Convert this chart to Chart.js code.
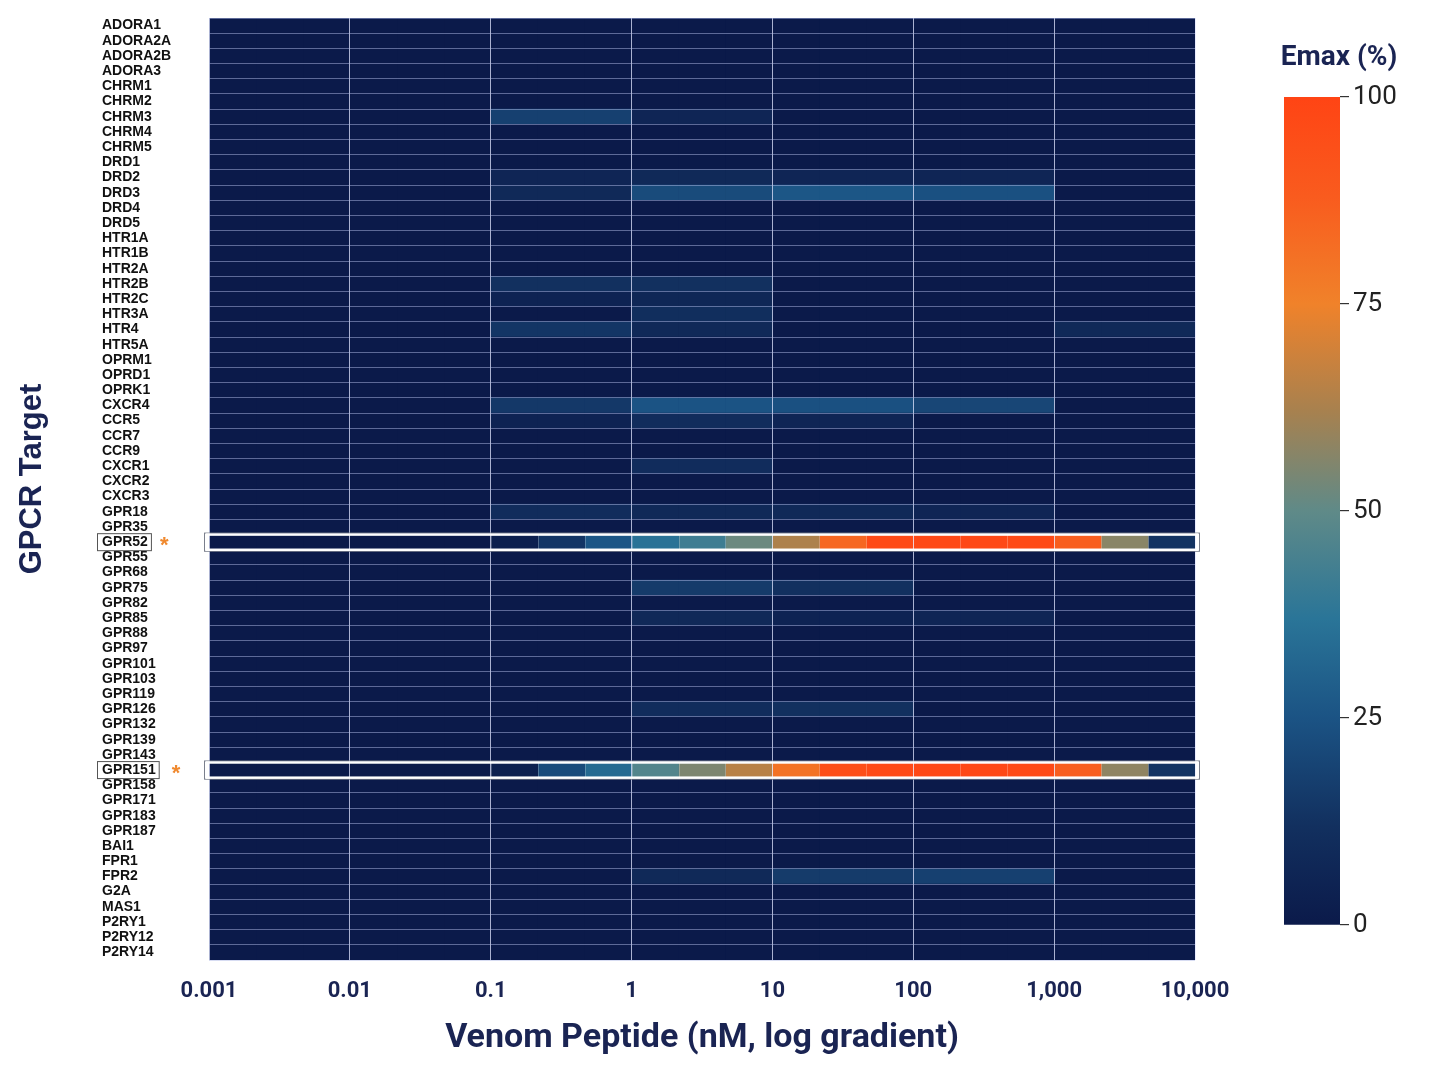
<!DOCTYPE html>
<html>
<head>
<meta charset="utf-8">
<title>GPCR Emax heatmap</title>
<script src="https://cdn.jsdelivr.net/npm/chart.js@4.4.1/dist/chart.umd.min.js"></script>
<style>
  html, body { margin: 0; padding: 0; background: #fff; }
  #wrap { position: relative; width: 1440px; height: 1080px; }
  #chart { position: absolute; left: 0; top: 0; }
  #cbar { position: absolute; left: 1240px; top: 0; }
</style>
</head>
<body>
<div id="wrap">
  <canvas id="chart" width="1440" height="1080"></canvas>
  <canvas id="cbar" width="200" height="1080"></canvas>
</div>
<script>
const targets = [
  'ADORA1', 'ADORA2A', 'ADORA2B', 'ADORA3', 'CHRM1', 'CHRM2', 'CHRM3', 'CHRM4', 'CHRM5',
  'DRD1', 'DRD2', 'DRD3', 'DRD4', 'DRD5', 'HTR1A', 'HTR1B', 'HTR2A', 'HTR2B', 'HTR2C',
  'HTR3A', 'HTR4', 'HTR5A', 'OPRM1', 'OPRD1', 'OPRK1', 'CXCR4', 'CCR5', 'CCR7', 'CCR9',
  'CXCR1', 'CXCR2', 'CXCR3', 'GPR18', 'GPR35', 'GPR52', 'GPR55', 'GPR68', 'GPR75', 'GPR82',
  'GPR85', 'GPR88', 'GPR97', 'GPR101', 'GPR103', 'GPR119', 'GPR126', 'GPR132', 'GPR139',
  'GPR143', 'GPR151', 'GPR158', 'GPR171', 'GPR183', 'GPR187', 'BAI1', 'FPR1', 'FPR2',
  'G2A', 'MAS1', 'P2RY1', 'P2RY12', 'P2RY14'
];

// concentration axis (nM), decade ticks
const concTicks = [0.001, 0.01, 0.1, 1, 10, 100, 1000, 10000];
const concTickLabels = ['0.001', '0.01', '0.1', '1', '10', '100', '1,000', '10,000'];
const binsPerDecade = 3;

// Emax (%) per third-of-a-decade bin, 0.001 -> 10,000 nM
const gpr52Emax  = [0, 0, 0, 0, 0, 0, 3, 14, 26, 36, 42, 52, 63, 84, 97, 98, 98, 97, 87, 57, 13];
const gpr151Emax = [0, 0, 0, 0, 0, 0, 3, 22, 33, 47, 55, 65, 80, 95, 97, 98, 98, 97, 87, 58, 13];

// weak responses of the other receptors: [target, decade start (nM), Emax %]
const weakSignals = [
  ['CHRM3', 0.1, 18], ['CHRM3', 1, 6],
  ['DRD2', 0.1, 6], ['DRD2', 1, 8], ['DRD2', 10, 6], ['DRD2', 100, 6],
  ['DRD3', 0.1, 8], ['DRD3', 1, 22], ['DRD3', 10, 26], ['DRD3', 100, 24],
  ['HTR2B', 0.1, 12], ['HTR2B', 1, 12],
  ['HTR2C', 0.1, 5], ['HTR2C', 1, 7],
  ['HTR3A', 1, 11],
  ['HTR4', 0.1, 14], ['HTR4', 1, 8], ['HTR4', 1000, 8],
  ['CXCR4', 0.1, 15], ['CXCR4', 1, 25], ['CXCR4', 10, 24], ['CXCR4', 100, 20],
  ['CCR5', 0.1, 5], ['CCR5', 1, 10], ['CCR5', 10, 6],
  ['CXCR1', 1, 10],
  ['GPR18', 0.1, 10], ['GPR18', 1, 8], ['GPR18', 10, 8], ['GPR18', 100, 6],
  ['GPR75', 1, 16], ['GPR75', 10, 12],
  ['GPR85', 1, 8], ['GPR85', 10, 5], ['GPR85', 100, 6],
  ['GPR126', 1, 10], ['GPR126', 10, 12],
  ['FPR2', 1, 8], ['FPR2', 10, 16], ['FPR2', 100, 18]
];

const emaxTicks = [0, 25, 50, 75, 100];

const NAVY = '#1a2453';
const colorStops = [
  [0, '#0b1a4a'], [12, '#12305f'], [25, '#1b5384'], [37, '#2a7598'], [50, '#5f8a88'],
  [62, '#a7814f'], [75, '#f0822a'], [88, '#f95b1e'], [100, '#ff4414']
];

function hexToRgb(h) {
  return [parseInt(h.slice(1, 3), 16), parseInt(h.slice(3, 5), 16), parseInt(h.slice(5, 7), 16)];
}

function emaxColor(v) {
  for (let i = 1; i < colorStops.length; i++) {
    if (v <= colorStops[i][0]) {
      const [v0, c0] = colorStops[i - 1];
      const [v1, c1] = colorStops[i];
      const t = (v - v0) / (v1 - v0);
      const a = hexToRgb(c0), b = hexToRgb(c1);
      const rgb = a.map((x, k) => Math.round(x + (b[k] - x) * t));
      return `rgb(${rgb[0]}, ${rgb[1]}, ${rgb[2]})`;
    }
  }
  return colorStops[colorStops.length - 1][1];
}

const hitRows = { GPR52: gpr52Emax, GPR151: gpr151Emax };

// bin edges along the concentration axis
const bins = [];
for (let d = 0; d < concTicks.length - 1; d++) {
  for (let s = 0; s < binsPerDecade; s++) {
    bins.push({
      lo: concTicks[d] * Math.pow(10, s / binsPerDecade),
      hi: concTicks[d] * Math.pow(10, (s + 1) / binsPerDecade),
      decade: concTicks[d]
    });
  }
}

function cellValue(target, binIndex) {
  if (hitRows[target]) return hitRows[target][binIndex];
  const w = weakSignals.find(s => s[0] === target && s[1] === bins[binIndex].decade);
  return w ? w[2] : 0;
}

const datasets = bins.map((b, i) => ({
  label: b.lo + '-' + b.hi + ' nM',
  data: targets.map(t => ({ y: t, x: [b.lo, b.hi] })),
  backgroundColor: targets.map(t => emaxColor(cellValue(t, i))),
  borderWidth: 0,
  grouped: false,
  barPercentage: 1,
  categoryPercentage: 1
}));

// navy behind the cells so no white hairlines show through
const plotBackground = {
  id: 'plotBackground',
  beforeDatasetsDraw(chart) {
    const { ctx, chartArea: a } = chart;
    ctx.save();
    ctx.fillStyle = emaxColor(0);
    ctx.fillRect(a.left, a.top, a.right - a.left, a.bottom - a.top);
    ctx.restore();
  }
};

// outlines of the hit rows, boxed labels, asterisks and y title
const highlights = {
  id: 'highlights',
  afterDraw(chart) {
    const { ctx, chartArea: a, scales: { x, y } } = chart;
    const rowH = (a.bottom - a.top) / targets.length;
    ctx.save();
    Object.keys(hitRows).forEach(name => {
      const idx = targets.indexOf(name);
      const cy = y.getPixelForValue(idx);
      const top = cy - rowH / 2;
      // thin separators between bins
      ctx.strokeStyle = 'rgba(255,255,255,0.25)';
      ctx.lineWidth = 1;
      bins.forEach((b, i) => {
        if (i === 0) return;
        if (hitRows[name][i] > 0 || hitRows[name][i - 1] > 0) {
          const px = Math.round(x.getPixelForValue(b.lo)) + 0.5;
          ctx.beginPath();
          ctx.moveTo(px, top);
          ctx.lineTo(px, top + rowH);
          ctx.stroke();
        }
      });
      // row outline
      ctx.strokeStyle = '#7a7f8c';
      ctx.lineWidth = 1;
      ctx.strokeRect(a.left - 4.5, top - 1.5, a.right - a.left + 9, rowH + 3);
      ctx.strokeStyle = '#ffffff';
      ctx.lineWidth = 2.5;
      ctx.strokeRect(a.left - 2, top, a.right - a.left + 4, rowH);
      // boxed label + asterisk
      ctx.font = 'bold 14px "Liberation Sans", Arial, sans-serif';
      const w = ctx.measureText(name).width;
      ctx.strokeStyle = '#555555';
      ctx.lineWidth = 1;
      ctx.strokeRect(y.left - 4.5, cy - 8.5, w + 8, 17);
      ctx.fillStyle = '#f0892e';
      ctx.font = 'bold 22px "Liberation Sans", Arial, sans-serif';
      ctx.textAlign = 'left';
      ctx.textBaseline = 'middle';
      ctx.fillText('*', y.left + w + (name === 'GPR151' ? 16 : 12), cy + 4);
    });
    // y axis title
    ctx.translate(32, (a.top + a.bottom) / 2 - 10);
    ctx.rotate(-Math.PI / 2);
    ctx.fillStyle = NAVY;
    ctx.font = 'bold 31px "Liberation Sans", Arial, sans-serif';
    ctx.textAlign = 'center';
    ctx.textBaseline = 'middle';
    ctx.fillText('GPCR Target', 0, 0);
    ctx.restore();
  }
};

new Chart(document.getElementById('chart'), {
  type: 'bar',
  data: { labels: targets, datasets: datasets },
  options: {
    indexAxis: 'y',
    responsive: false,
    animation: false,
    layout: { padding: { left: 102, right: 245, top: 18, bottom: 0 } },
    plugins: { legend: { display: false }, tooltip: { enabled: false } },
    scales: {
      x: {
        type: 'logarithmic',
        position: 'bottom',
        min: concTicks[0],
        max: concTicks[concTicks.length - 1],
        afterBuildTicks: s => { s.ticks = concTicks.map(v => ({ value: v })); },
        afterFit: s => { s.height = 120; },
        grid: { color: 'rgba(225,230,255,0.75)', lineWidth: 1, drawTicks: false, z: 1 },
        border: { display: false },
        ticks: {
          padding: 18,
          autoSkip: false,
          maxRotation: 0,
          color: NAVY,
          font: { family: 'Roboto', size: 22, weight: 'bold' },
          callback: (v, i) => concTickLabels[i]
        },
        title: {
          display: true,
          text: 'Venom Peptide (nM, log gradient)',
          color: NAVY,
          font: { family: 'Roboto', size: 34, weight: 'bold' },
          padding: { top: 0, bottom: 21 }
        }
      },
      y: {
        type: 'category',
        offset: true,
        afterFit: s => { s.width = 107; },
        grid: { color: 'rgba(175,185,230,0.5)', lineWidth: 1, drawTicks: false, offset: true, z: 1 },
        border: { display: false },
        ticks: {
          autoSkip: false,
          crossAlign: 'far',
          color: '#111111',
          font: { family: 'Liberation Sans', size: 14, weight: 'bold' }
        }
      }
    }
  },
  plugins: [plotBackground, highlights]
});

// colour bar
const cbarTitle = {
  id: 'cbarTitle',
  afterDraw(chart) {
    const { ctx, chartArea: a } = chart;
    ctx.save();
    ctx.fillStyle = NAVY;
    ctx.font = 'bold 28px Roboto, sans-serif';
    ctx.textAlign = 'center';
    ctx.textBaseline = 'middle';
    ctx.fillText('Emax (%)', a.right - 1, 58);
    ctx.restore();
  }
};

new Chart(document.getElementById('cbar'), {
  type: 'bar',
  data: {
    labels: ['Emax'],
    datasets: [{
      data: [[emaxTicks[0], emaxTicks[emaxTicks.length - 1]]],
      backgroundColor: ctx => {
        const chart = ctx.chart;
        const ys = chart.scales.y;
        if (!ys || !chart.chartArea) return emaxColor(50);
        const g = chart.ctx.createLinearGradient(0, ys.getPixelForValue(0), 0, ys.getPixelForValue(100));
        colorStops.forEach(([v, c]) => g.addColorStop(v / 100, c));
        return g;
      },
      borderWidth: 0,
      barPercentage: 1,
      categoryPercentage: 1
    }]
  },
  options: {
    responsive: false,
    animation: false,
    layout: { padding: { left: 44, top: 97, bottom: 155, right: 0 } },
    plugins: { legend: { display: false }, tooltip: { enabled: false } },
    scales: {
      x: { display: false },
      y: {
        position: 'right',
        min: emaxTicks[0],
        max: emaxTicks[emaxTicks.length - 1],
        afterBuildTicks: s => { s.ticks = emaxTicks.map(v => ({ value: v })); },
        afterFit: s => { s.width = 100; },
        grid: { drawOnChartArea: false, drawTicks: true, tickLength: 9, color: '#333333', lineWidth: 1.2 },
        border: { display: false },
        ticks: { padding: 4, color: '#222222', font: { family: 'Roboto', size: 26 } }
      }
    }
  },
  plugins: [cbarTitle]
});
</script>
</body>
</html>
